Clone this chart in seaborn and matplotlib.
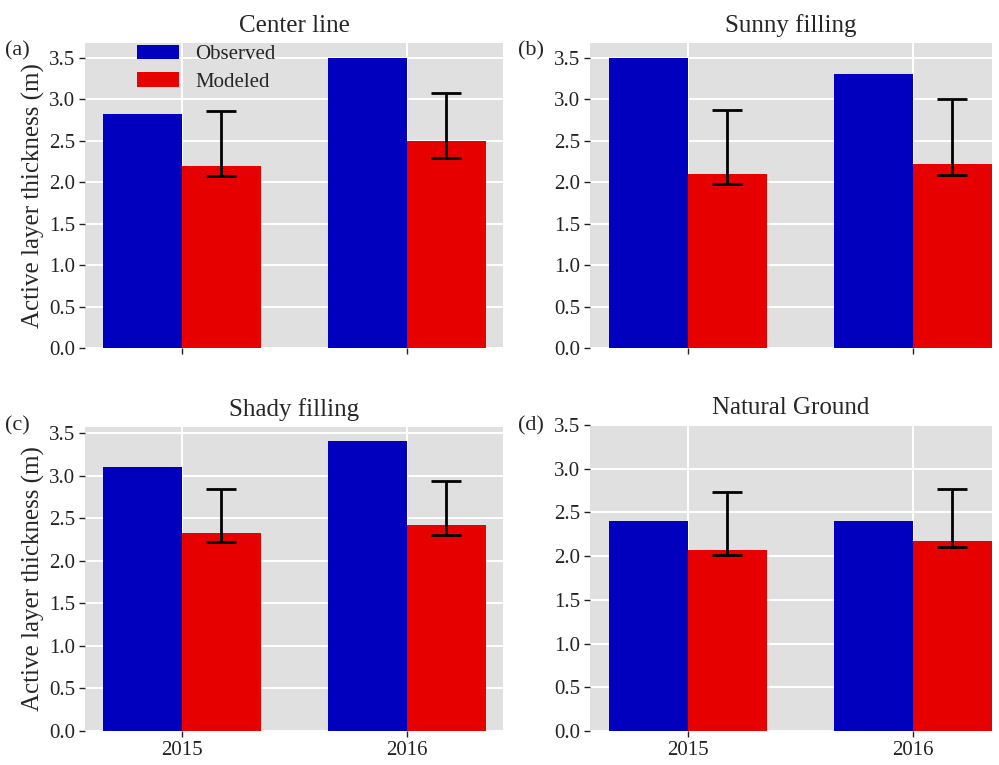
import numpy as np
import pandas as pd
import matplotlib
matplotlib.use("Agg")
import matplotlib.pyplot as plt
import seaborn as sns

# ---- data -------------------------------------------------------------
years = ["2015", "2016"]
panels = ["Center line", "Sunny filling", "Shady filling", "Natural Ground"]
panel_tags = ["(a)", "(b)", "(c)", "(d)"]

observed = {
    "Center line":    [2.82, 3.50],
    "Sunny filling":  [3.50, 3.30],
    "Shady filling":  [3.10, 3.40],
    "Natural Ground": [2.40, 2.40],
}
modeled = {
    "Center line":    [2.19, 2.49],
    "Sunny filling":  [2.10, 2.22],
    "Shady filling":  [2.32, 2.42],
    "Natural Ground": [2.07, 2.17],
}
# modeled range (lower, upper bounds)
modeled_low = {
    "Center line":    [2.07, 2.29],
    "Sunny filling":  [1.98, 2.09],
    "Shady filling":  [2.22, 2.30],
    "Natural Ground": [2.01, 2.11],
}
modeled_high = {
    "Center line":    [2.85, 3.07],
    "Sunny filling":  [2.865, 3.00],
    "Shady filling":  [2.84, 2.94],
    "Natural Ground": [2.73, 2.77],
}

series_names = ["Observed", "Modeled"]
colors = ["#0000BE", "#E60000"]

rows = []
for p in panels:
    for i, y in enumerate(years):
        rows.append((p, y, "Observed", observed[p][i]))
        rows.append((p, y, "Modeled", modeled[p][i]))
df = pd.DataFrame(rows, columns=["site", "year", "series", "thickness"])

# ---- style ------------------------------------------------------------
sns.set_style("darkgrid", {
    "axes.facecolor": "#E0E0E0",
    "grid.color": "white",
    "axes.edgecolor": "#E0E0E0",
})
plt.rcParams.update({
    "font.family": ["Liberation Serif", "DejaVu Serif"],
    "xtick.bottom": True,
    "ytick.left": True,
    "xtick.direction": "out",
    "ytick.direction": "out",
    "xtick.color": "#222222",
    "ytick.color": "#222222",
    "xtick.major.size": 4,
    "ytick.major.size": 4,
    "xtick.major.width": 1.0,
    "ytick.major.width": 1.0,
    "grid.linewidth": 1.4,
    "axes.axisbelow": True,
})

fig = plt.figure(figsize=(9.99, 7.65), dpi=100)

W, H = 999.0, 765.0
# axes boxes in pixels: left, top, right, bottom
boxes = [
    (85, 43, 503, 348),
    (590, 43, 992, 348),
    (85, 427, 503, 731),
    (590, 425, 992, 731),
]
ylims = [3.675, 3.675, 3.57, 3.5]
xlims = [(-0.43, 1.427), (-0.435, 1.352), (-0.43, 1.427), (-0.435, 1.352)]
tag_pos = [(5, 55), (518, 55), (5, 430), (518, 430)]

for k, p in enumerate(panels):
    l, t, r, b = boxes[k]
    ax = fig.add_axes([l / W, 1 - b / H, (r - l) / W, (b - t) / H])
    sub = df[df["site"] == p]
    sns.barplot(data=sub, x="year", y="thickness", hue="series",
                hue_order=series_names, order=years, palette=colors,
                width=0.7, saturation=1, errorbar=None, ax=ax,
                legend=(k == 0), linewidth=0)

    # asymmetric error bars on the modeled bars
    mod_bars = ax.containers[1]
    xs = [bar.get_x() + bar.get_width() / 2 for bar in mod_bars]
    vals = np.array(modeled[p])
    lo = vals - np.array(modeled_low[p])
    hi = np.array(modeled_high[p]) - vals
    ax.errorbar(xs, vals, yerr=[lo, hi], fmt="none", ecolor="black",
                elinewidth=2.0, capsize=10.5, capthick=2.0, zorder=5)

    ax.set_ylim(0, ylims[k])
    ax.set_xlim(*xlims[k])
    ax.grid(True, axis="both", color="white", linewidth=1.4)
    ax.set_yticks(np.arange(0, 3.51, 0.5))
    ax.set_yticklabels([f"{v:.1f}" for v in np.arange(0, 3.51, 0.5)])
    ax.tick_params(axis="both", labelsize=15, pad=3)
    ax.set_xlabel("")
    if k in (0, 2):
        ax.set_ylabel("Active layer thickness (m)", fontsize=18, labelpad=3)
    else:
        ax.set_ylabel("")
    if k in (0, 1):
        ax.tick_params(axis="x", labelbottom=False)
    for s in ax.spines.values():
        s.set_visible(False)
    ax.set_title(p, fontsize=18, pad=8)
    fig.text(tag_pos[k][0] / W, 1 - tag_pos[k][1] / H, panel_tags[k],
             fontsize=16, ha="left", va="baseline")

    if k == 0:
        handles = ax.containers[0].patches[:1] + ax.containers[1].patches[:1]
        ax.legend(handles, series_names, loc="upper left",
                  bbox_to_anchor=(0.125, 0.995), frameon=False, fontsize=15,
                  handlelength=2.0, handleheight=0.7, handletextpad=0.8,
                  labelspacing=0.4, borderpad=0, borderaxespad=0)

fig.savefig("out.png", dpi=100)
